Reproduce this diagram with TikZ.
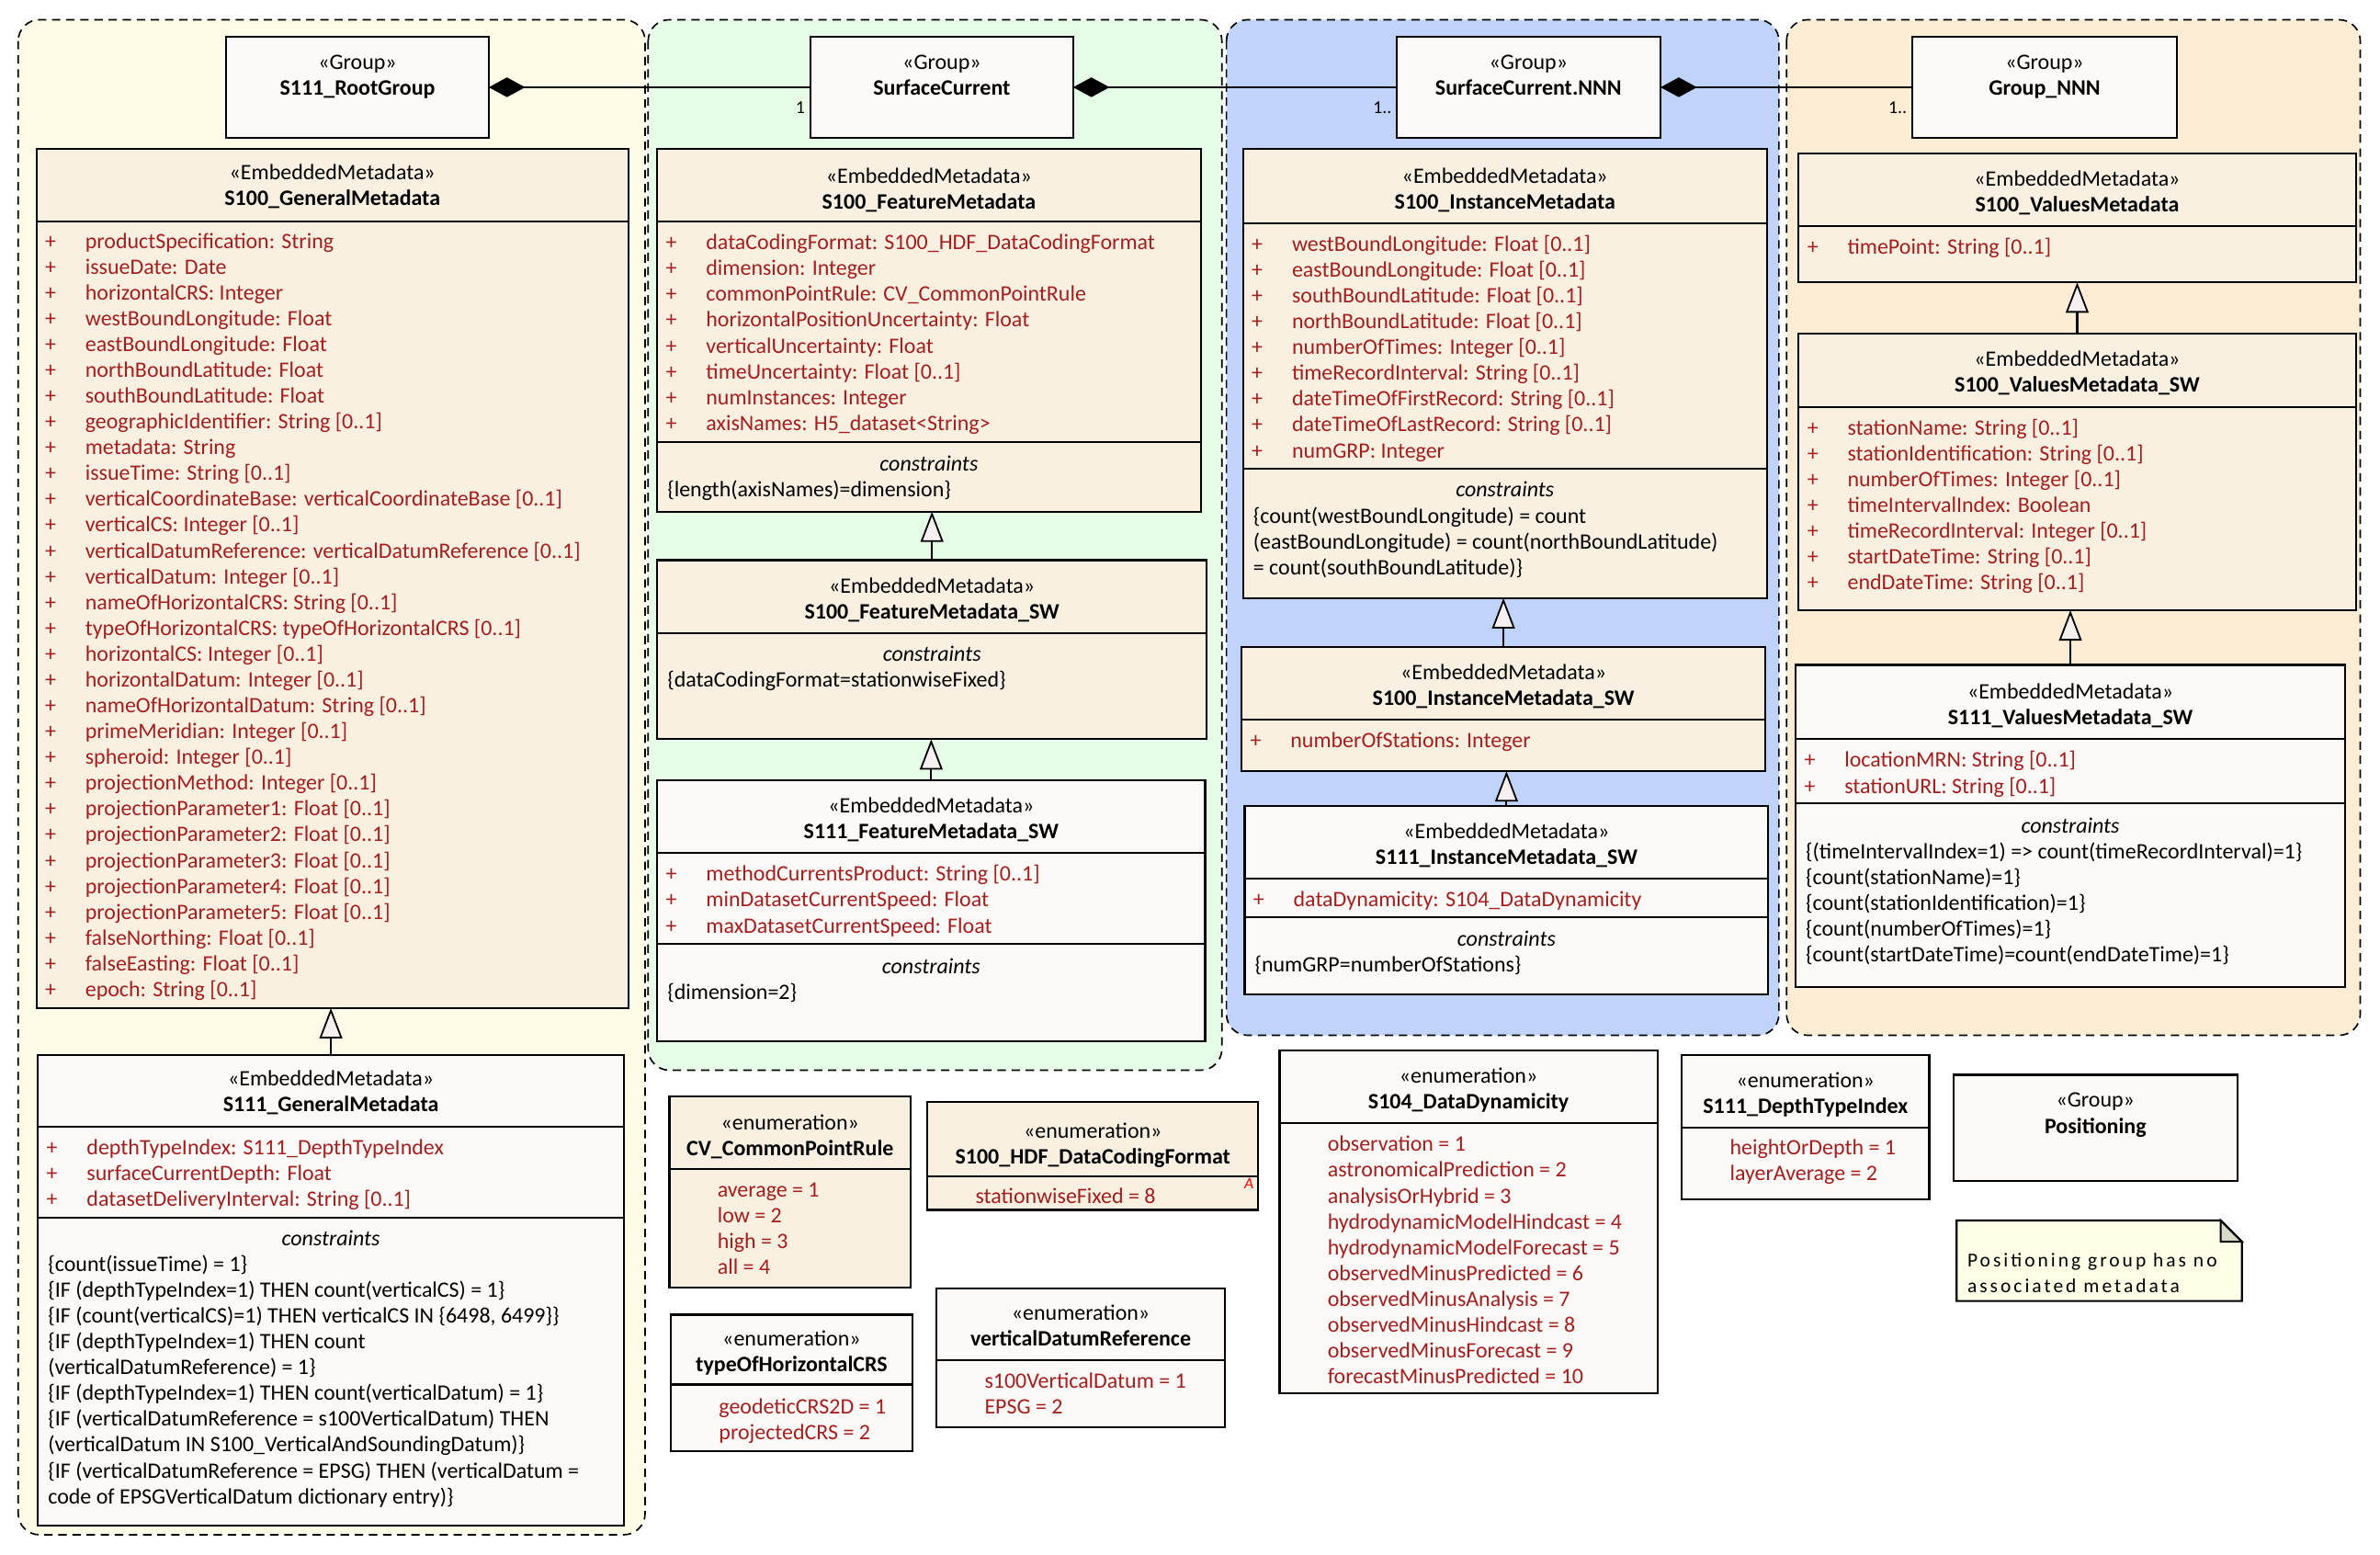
\documentclass[tikz,border=0pt]{standalone}
\usepackage{fontspec}
\setmainfont{Carlito}
\newfontfamily\notefont[LetterSpace=14]{Carlito}
\usetikzlibrary{arrows.meta}

\definecolor{beige}{HTML}{FAF0E1}
\definecolor{paper}{HTML}{FDF9F6}
\definecolor{grpyellow}{HTML}{FFFDE8}
\definecolor{grpgreen}{HTML}{E6FCE6}
\definecolor{grpblue}{HTML}{C0D4FB}
\definecolor{grporange}{HTML}{FDEDD5}
\definecolor{attrred}{HTML}{A31F1F}
\definecolor{noteyellow}{HTML}{FFFEE6}
\definecolor{foldgray}{HTML}{D9D9C8}
\definecolor{trifill}{HTML}{F6F0EE}

\tikzset{
  frame/.style={draw=black, line width=1.3pt, inner sep=0pt, outer sep=0pt},
  bline/.style={draw=black, line width=1.3pt},
  container/.style={draw=black, line width=1pt, dash pattern=on 5.5pt off 3.8pt, rounded corners=14pt},
  basetxt/.style={inner sep=0pt, font=\fontsize{14.5}{17}\selectfont},
  sttxt/.style={basetxt},
  nmtxt/.style={inner sep=0pt, font=\fontsize{14.5}{17}\selectfont\bfseries},
  attrtxt/.style={basetxt, text=attrred},
  ctxt/.style={basetxt, text=black},
  cttl/.style={inner sep=0pt, font=\fontsize{14.5}{17}\selectfont\itshape},
  multtxt/.style={inner sep=0pt, font=\fontsize{12}{14}\selectfont},
  notetxt/.style={inner sep=0pt, font=\fontsize{13}{17}\notefont},
  compo/.style={line width=1.3pt, -{Diamond[length=24pt,width=13pt]}},
  gen/.style={line width=1.3pt, -{Triangle[length=20pt,width=15pt,fill=trifill,line width=1.1pt]}}
}

% class box: name, x1, y1, x2, y2, fill
\newcommand\umlbox[6]{\node[frame, fill=#6, anchor=north west, minimum width={#4-#2}, minimum height={#5-#3}] (#1) at (#2,#3) {};}
% compartment separator: x1, x2, y
\newcommand\umlsep[3]{\draw[bline] (#1,#3) -- (#2,#3);}
% header: name, centre x, stereotype centre y, stereotype, title
\newcommand\umlhead[5]{%
  \node[sttxt, anchor=base] (#1-st) at (#2,#3+4.5) {«#4»};
  \node[nmtxt, anchor=base] (#1-nm) at (#2,#3+21.5) {#5};}
% attributes: name, box left, first centre y, items
\newcommand\umlattrs[4]{%
  \foreach \t [count=\i] in {#4}{%
    \node[attrtxt, anchor=base west] (#1-p\i) at (#2+5.5,#3+4.5+17*\i-17) {+};
    \node[attrtxt, anchor=base west] (#1-a\i) at (#2+32,#3+4.5+17*\i-17) {\t};}}
% enumeration literals: name, box left, first centre y, items
\newcommand\umlitems[4]{%
  \foreach \t [count=\i] in {#4}{%
    \node[attrtxt, anchor=base west] (#1-e\i) at (#2+31.5,#3+4.5+17*\i-17) {\t};}}
% constraints: name, box left, centre x, title centre y, lines
\newcommand\umlcons[5]{%
  \node[cttl, anchor=base] (#1-ct) at (#3,#4+4.5) {constraints};
  \foreach \t [count=\i] in {#5}{%
    \node[ctxt, anchor=base west] (#1-c\i) at (#2+6.5,#4+4.5+17*\i) {\t};}}

\begin{document}
\begin{tikzpicture}[x=1pt, y=-1pt]
\useasboundingbox (0,0) rectangle (1568,1024);
\fill[white] (0,0) rectangle (1568,1024);

% package containers
\path[container, fill=grpyellow] (12,13) rectangle (425,1011);
\path[container, fill=grpgreen] (427,13) rectangle (805,705);
\path[container, fill=grpblue] (808,13) rectangle (1172,682);
\path[container, fill=grporange] (1177,13) rectangle (1555,682);

% groups
\umlbox{root}{149}{24}{322}{91}{paper}
\umlhead{root}{235.5}{41}{Group}{S111\_RootGroup}
\umlbox{sc}{534}{24}{707}{91}{paper}
\umlhead{sc}{620.5}{41}{Group}{SurfaceCurrent}
\umlbox{scn}{920}{24}{1094}{91}{paper}
\umlhead{scn}{1007}{41}{Group}{SurfaceCurrent.NNN}
\umlbox{gnnn}{1260}{24}{1434}{91}{paper}
\umlhead{gnnn}{1347}{41}{Group}{Group\_NNN}

% S100_GeneralMetadata
\umlbox{gm}{24}{98}{414}{664}{beige}
\umlhead{gm}{219}{114}{EmbeddedMetadata}{S100\_GeneralMetadata}
\umlsep{24}{414}{146}
\umlattrs{gm}{24}{159}{{productSpecification: String},{issueDate: Date},{horizontalCRS: Integer},{westBoundLongitude: Float},{eastBoundLongitude: Float},{northBoundLatitude: Float},{southBoundLatitude: Float},{geographicIdentifier: String [0..1]},{metadata: String},{issueTime: String [0..1]},{verticalCoordinateBase: verticalCoordinateBase [0..1]},{verticalCS: Integer [0..1]},{verticalDatumReference: verticalDatumReference [0..1]},{verticalDatum: Integer [0..1]},{nameOfHorizontalCRS: String [0..1]},{typeOfHorizontalCRS: typeOfHorizontalCRS [0..1]},{horizontalCS: Integer [0..1]},{horizontalDatum: Integer [0..1]},{nameOfHorizontalDatum: String [0..1]},{primeMeridian: Integer [0..1]},{spheroid: Integer [0..1]},{projectionMethod: Integer [0..1]},{projectionParameter1: Float [0..1]},{projectionParameter2: Float [0..1]},{projectionParameter3: Float [0..1]},{projectionParameter4: Float [0..1]},{projectionParameter5: Float [0..1]},{falseNorthing: Float [0..1]},{falseEasting: Float [0..1]},{epoch: String [0..1]}}

% S111_GeneralMetadata
\umlbox{sgm}{25}{695}{411}{1005}{paper}
\umlhead{sgm}{218}{711}{EmbeddedMetadata}{S111\_GeneralMetadata}
\umlsep{25}{411}{742}
\umlattrs{sgm}{25}{756}{{depthTypeIndex: S111\_DepthTypeIndex},{surfaceCurrentDepth: Float},{datasetDeliveryInterval: String [0..1]}}
\umlsep{25}{411}{802}
\umlcons{sgm}{25}{218}{816}{{\{count(issueTime) = 1\}},{\{IF (depthTypeIndex=1) THEN count(verticalCS) = 1\}},{\{IF (count(verticalCS)=1) THEN verticalCS IN \{6498, 6499\}\}},{\{IF (depthTypeIndex=1) THEN count},{(verticalDatumReference) = 1\}},{\{IF (depthTypeIndex=1) THEN count(verticalDatum) = 1\}},{\{IF (verticalDatumReference = s100VerticalDatum) THEN},{(verticalDatum IN S100\_VerticalAndSoundingDatum)\}},{\{IF (verticalDatumReference = EPSG) THEN (verticalDatum =},{code of EPSGVerticalDatum dictionary entry)\}}}

% S100_FeatureMetadata
\umlbox{fm}{433}{98}{791}{337}{beige}
\umlhead{fm}{612}{116}{EmbeddedMetadata}{S100\_FeatureMetadata}
\umlsep{433}{791}{146}
\umlattrs{fm}{433}{160}{{dataCodingFormat: S100\_HDF\_DataCodingFormat},{dimension: Integer},{commonPointRule: CV\_CommonPointRule},{horizontalPositionUncertainty: Float},{verticalUncertainty: Float},{timeUncertainty: Float [0..1]},{numInstances: Integer},{axisNames: H5\_dataset<String>}}
\umlsep{433}{791}{291}
\umlcons{fm}{433}{612}{306}{{\{length(axisNames)=dimension\}}}

% S100_FeatureMetadata_SW
\umlbox{fmsw}{433}{369}{795}{487}{beige}
\umlhead{fmsw}{614}{386}{EmbeddedMetadata}{S100\_FeatureMetadata\_SW}
\umlsep{433}{795}{417}
\umlcons{fmsw}{433}{614}{431}{{\{dataCodingFormat=stationwiseFixed\}}}

% S111_FeatureMetadata_SW
\umlbox{sfmsw}{433}{514}{794}{686}{paper}
\umlhead{sfmsw}{613.5}{531}{EmbeddedMetadata}{S111\_FeatureMetadata\_SW}
\umlsep{433}{794}{562}
\umlattrs{sfmsw}{433}{576}{{methodCurrentsProduct: String [0..1]},{minDatasetCurrentSpeed: Float},{maxDatasetCurrentSpeed: Float}}
\umlsep{433}{794}{622}
\umlcons{sfmsw}{433}{613.5}{637}{{\{dimension=2\}}}

% S100_InstanceMetadata
\umlbox{im}{819}{98}{1164}{394}{beige}
\umlhead{im}{991.5}{116}{EmbeddedMetadata}{S100\_InstanceMetadata}
\umlsep{819}{1164}{147}
\umlattrs{im}{819}{161}{{westBoundLongitude: Float [0..1]},{eastBoundLongitude: Float [0..1]},{southBoundLatitude: Float [0..1]},{northBoundLatitude: Float [0..1]},{numberOfTimes: Integer [0..1]},{timeRecordInterval: String [0..1]},{dateTimeOfFirstRecord: String [0..1]},{dateTimeOfLastRecord: String [0..1]},{numGRP: Integer}}
\umlsep{819}{1164}{309}
\umlcons{im}{819}{991.5}{323}{{\{count(westBoundLongitude) = count},{(eastBoundLongitude) = count(northBoundLatitude)},{= count(southBoundLatitude)\}}}

% S100_InstanceMetadata_SW
\umlbox{imsw}{818}{426}{1163}{508}{beige}
\umlhead{imsw}{990.5}{443}{EmbeddedMetadata}{S100\_InstanceMetadata\_SW}
\umlsep{818}{1163}{474}
\umlattrs{imsw}{818}{488}{{numberOfStations: Integer}}

% S111_InstanceMetadata_SW
\umlbox{simsw}{820}{531}{1165}{655}{paper}
\umlhead{simsw}{992.5}{548}{EmbeddedMetadata}{S111\_InstanceMetadata\_SW}
\umlsep{820}{1165}{579}
\umlattrs{simsw}{820}{593}{{dataDynamicity: S104\_DataDynamicity}}
\umlsep{820}{1165}{604}
\umlcons{simsw}{820}{992.5}{619}{{\{numGRP=numberOfStations\}}}

% S100_ValuesMetadata
\umlbox{vm}{1185}{101}{1552}{186}{beige}
\umlhead{vm}{1368.5}{118}{EmbeddedMetadata}{S100\_ValuesMetadata}
\umlsep{1185}{1552}{149}
\umlattrs{vm}{1185}{163}{{timePoint: String [0..1]}}

% S100_ValuesMetadata_SW
\umlbox{vmsw}{1185}{220}{1552}{402}{beige}
\umlhead{vmsw}{1368.5}{237}{EmbeddedMetadata}{S100\_ValuesMetadata\_SW}
\umlsep{1185}{1552}{268}
\umlattrs{vmsw}{1185}{282}{{stationName: String [0..1]},{stationIdentification: String [0..1]},{numberOfTimes: Integer [0..1]},{timeIntervalIndex: Boolean},{timeRecordInterval: Integer [0..1]},{startDateTime: String [0..1]},{endDateTime: String [0..1]}}

% S111_ValuesMetadata_SW
\umlbox{svmsw}{1183}{438}{1545}{650}{paper}
\umlhead{svmsw}{1364}{456}{EmbeddedMetadata}{S111\_ValuesMetadata\_SW}
\umlsep{1183}{1545}{487}
\umlattrs{svmsw}{1183}{501}{{locationMRN: String [0..1]},{stationURL: String [0..1]}}
\umlsep{1183}{1545}{529}
\umlcons{svmsw}{1183}{1364}{544}{{\{(timeIntervalIndex=1) => count(timeRecordInterval)=1\}},{\{count(stationName)=1\}},{\{count(stationIdentification)=1\}},{\{count(numberOfTimes)=1\}},{\{count(startDateTime)=count(endDateTime)=1\}}}

% enumerations
\umlbox{cpr}{441}{722}{600}{848}{beige}
\umlhead{cpr}{520.5}{740}{enumeration}{CV\_CommonPointRule}
\umlsep{441}{600}{770}
\umlitems{cpr}{441}{784}{{average = 1},{low = 2},{high = 3},{all = 4}}

\umlbox{hdf}{611}{726}{829}{797}{beige}
\umlhead{hdf}{720}{745}{enumeration}{S100\_HDF\_DataCodingFormat}
\umlsep{611}{829}{775}
\umlitems{hdf}{611}{788}{{stationwiseFixed = 8}}
\node[inner sep=0pt, font=\fontsize{10.5}{12}\selectfont\itshape, text=red, anchor=base east] (hdf-abs) at (826,783) {A};

\umlbox{toh}{442}{866}{601}{956}{paper}
\umlhead{toh}{521.5}{882}{enumeration}{typeOfHorizontalCRS}
\umlsep{442}{601}{912}
\umlitems{toh}{442}{927}{{geodeticCRS2D = 1},{projectedCRS = 2}}

\umlbox{vdr}{617}{849}{807}{940}{paper}
\umlhead{vdr}{712}{865}{enumeration}{verticalDatumReference}
\umlsep{617}{807}{896}
\umlitems{vdr}{617}{910}{{s100VerticalDatum = 1},{EPSG = 2}}

\umlbox{dd}{843}{692}{1092}{918}{paper}
\umlhead{dd}{967.5}{709}{enumeration}{S104\_DataDynamicity}
\umlsep{843}{1092}{740}
\umlitems{dd}{843}{754}{{observation = 1},{astronomicalPrediction = 2},{analysisOrHybrid = 3},{hydrodynamicModelHindcast = 4},{hydrodynamicModelForecast = 5},{observedMinusPredicted = 6},{observedMinusAnalysis = 7},{observedMinusHindcast = 8},{observedMinusForecast = 9},{forecastMinusPredicted = 10}}

\umlbox{dti}{1108}{695}{1271}{790}{paper}
\umlhead{dti}{1189.5}{712}{enumeration}{S111\_DepthTypeIndex}
\umlsep{1108}{1271}{743}
\umlitems{dti}{1108}{756}{{heightOrDepth = 1},{layerAverage = 2}}

\umlbox{pos}{1287}{708}{1474}{778}{paper}
\umlhead{pos}{1380.5}{725}{Group}{Positioning}

% note
\filldraw[bline, fill=noteyellow] (1289,804) -- (1463,804) -- (1477,818) -- (1477,857) -- (1289,857) -- cycle;
\filldraw[bline, fill=foldgray, line join=miter] (1463,804) -- (1463,818) -- (1477,818) -- cycle;
\node[notetxt, anchor=base west] (note-l1) at (1296,834.5) {Positioning group has no};
\node[notetxt, anchor=base west] (note-l2) at (1296,851.5) {associated metadata};

% compositions
\draw[compo] (sc.west) -- (root.east);
\draw[compo] (scn.west) -- (sc.east);
\draw[compo] (gnnn.west) -- (scn.east);
\node[multtxt, anchor=base east] (m-sc) at ([xshift=-3.5pt, yshift=-17.5pt]sc.west) {1};
\node[multtxt, anchor=base east] (m-scn) at ([xshift=-3pt, yshift=-17.5pt]scn.west) {1..};
\node[multtxt, anchor=base east] (m-gnnn) at ([xshift=-3.5pt, yshift=-17.5pt]gnnn.west) {1..};

% generalizations
\draw[gen] (sgm.north) -- (sgm.north |- gm.south);
\draw[gen] (fmsw.north) -- (fmsw.north |- fm.south);
\draw[gen] (sfmsw.north) -- (sfmsw.north |- fmsw.south);
\draw[gen] (imsw.north) -- (imsw.north |- im.south);
\draw[gen] (simsw.north) -- (simsw.north |- imsw.south);
\draw[gen] (vmsw.north) -- (vmsw.north |- vm.south);
\draw[gen] (svmsw.north) -- (svmsw.north |- vmsw.south);
\end{tikzpicture}
\end{document}
